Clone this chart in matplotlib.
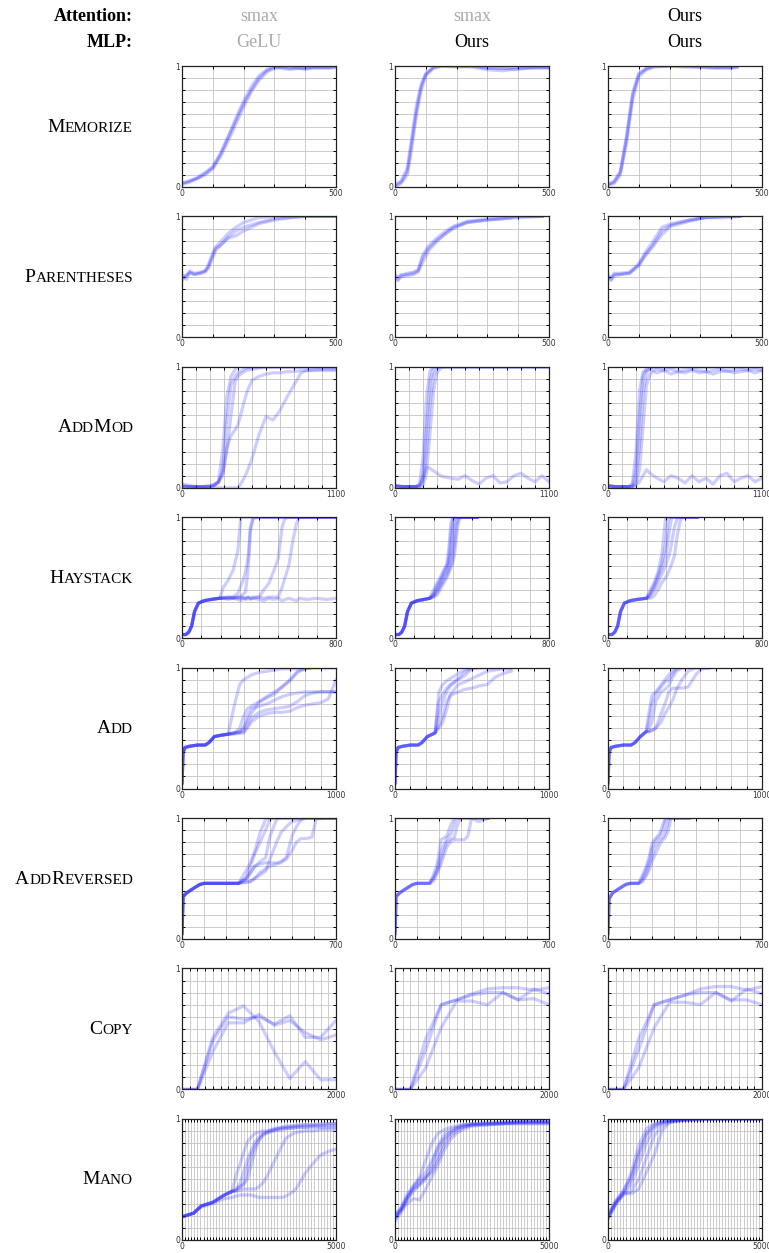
import numpy as np
import matplotlib
matplotlib.use("Agg")
import matplotlib.pyplot as plt

W, H = 769, 1253

attention_labels = ["smax", "smax", "Ours"]
mlp_labels = ["GeLU", "Ours", "Ours"]
tasks = ["Memorize", "Parentheses", "AddMod", "Haystack", "Add", "AddReversed", "Copy", "Mano"]
x_max = [500, 500, 1100, 800, 1000, 700, 2000, 5000]

# ---- Memorize
mem_x_a = [0, 25, 50, 75, 100, 125, 150, 175, 200, 225, 250, 275, 300, 325, 350, 375, 400, 425, 450, 475, 500]
mem_a = [
    [0.03, 0.05, 0.07, 0.11, 0.16, 0.27, 0.41, 0.55, 0.69, 0.80, 0.90, 0.96, 0.99, 0.99, 0.98, 0.99, 0.97, 0.99, 0.99, 0.98, 0.99],
    [0.02, 0.04, 0.07, 0.10, 0.15, 0.25, 0.38, 0.52, 0.66, 0.79, 0.88, 0.95, 0.98, 0.99, 0.99, 0.98, 0.98, 0.99, 0.98, 0.99, 0.99],
    [0.03, 0.05, 0.08, 0.12, 0.17, 0.28, 0.42, 0.57, 0.71, 0.83, 0.92, 0.97, 1.00, 0.98, 0.97, 0.98, 0.99, 0.98, 0.99, 0.99, 1.00]]
mem_x_b = [0, 20, 40, 55, 70, 85, 100, 125, 150, 200, 250, 300, 350, 400, 450, 500]
mem_b = [
    [0.02, 0.05, 0.16, 0.42, 0.68, 0.85, 0.94, 0.99, 1.00, 1.00, 1.00, 0.99, 0.98, 0.99, 0.98, 0.99],
    [0.00, 0.03, 0.10, 0.33, 0.60, 0.80, 0.92, 0.98, 1.00, 1.00, 0.99, 0.97, 0.96, 0.98, 0.99, 0.98],
    [0.01, 0.04, 0.13, 0.38, 0.64, 0.83, 0.93, 0.99, 1.00, 0.99, 1.00, 0.98, 0.98, 0.97, 0.99, 0.99]]
mem_x_c = [0, 20, 40, 60, 80, 100, 125, 150, 200, 250, 300, 350, 400, 420]
mem_c = [
    [0.02, 0.04, 0.12, 0.40, 0.76, 0.93, 0.98, 1.00, 1.00, 1.00, 0.99, 0.98, 0.99, 0.99],
    [0.01, 0.03, 0.10, 0.36, 0.72, 0.91, 0.97, 0.99, 1.00, 0.99, 0.99, 0.99, 0.98, 0.99],
    [0.02, 0.05, 0.13, 0.42, 0.78, 0.94, 0.98, 1.00, 1.00, 1.00, 1.00, 0.99, 0.99, 1.00]]

# ---- Parentheses
par_x_a = [0, 15, 25, 40, 60, 75, 85, 100, 110, 125, 150, 175, 200, 225, 250, 300, 350, 400, 450, 500]
par_a = [
    [0.49, 0.52, 0.54, 0.52, 0.53, 0.54, 0.58, 0.68, 0.74, 0.76, 0.83, 0.88, 0.91, 0.93, 0.95, 0.98, 0.99, 1.0, 1.0, 1.0],
    [0.52, 0.48, 0.55, 0.53, 0.54, 0.55, 0.60, 0.70, 0.75, 0.79, 0.86, 0.91, 0.95, 0.97, 0.99, 1.0, 1.0, 1.0, 1.0, 1.0],
    [0.47, 0.51, 0.53, 0.52, 0.53, 0.55, 0.57, 0.66, 0.72, 0.76, 0.82, 0.84, 0.88, 0.91, 0.94, 0.97, 0.99, 1.0, 1.0, 1.0]]
par_x_b = [0, 10, 20, 40, 60, 75, 90, 110, 135, 160, 190, 235, 300, 350, 400, 480]
par_b = [
    [0.50, 0.48, 0.52, 0.52, 0.53, 0.55, 0.66, 0.74, 0.80, 0.85, 0.90, 0.95, 0.97, 0.98, 1.0, 1.0],
    [0.52, 0.50, 0.51, 0.53, 0.54, 0.56, 0.68, 0.76, 0.82, 0.87, 0.92, 0.96, 0.98, 0.99, 1.0, 1.0],
    [0.48, 0.47, 0.50, 0.51, 0.52, 0.54, 0.62, 0.72, 0.79, 0.85, 0.91, 0.95, 0.97, 0.98, 0.99, 1.0]]
par_x_c = [0, 10, 20, 40, 70, 100, 120, 145, 175, 205, 265, 315, 380, 430]
par_c = [
    [0.52, 0.48, 0.53, 0.53, 0.54, 0.61, 0.70, 0.79, 0.91, 0.94, 0.97, 0.99, 1.0, 1.0],
    [0.50, 0.47, 0.51, 0.52, 0.53, 0.60, 0.68, 0.76, 0.88, 0.93, 0.97, 0.99, 1.0, 1.0],
    [0.49, 0.50, 0.52, 0.52, 0.53, 0.59, 0.67, 0.75, 0.85, 0.92, 0.96, 0.99, 0.99, 1.0]]

# ---- AddMod
amod_x_a = [0, 50, 100, 150, 200, 230, 260, 290, 320, 350, 380, 400, 430, 460, 500, 550, 600, 650, 700, 750, 800, 850, 900, 1000, 1100]
amod_a = [
    [0.02, 0.01, 0.01, 0.01, 0.01, 0.02, 0.05, 0.30, 0.75, 0.92, 0.98, 1.0, 1.0, 1.0, 1.0, 1.0, 1.0, 1.0, 1.0, 1.0, 1.0, 1.0, 1.0, 1.0, 1.0],
    [0.01, 0.01, 0.01, 0.01, 0.02, 0.03, 0.05, 0.10, 0.30, 0.60, 0.88, 0.92, 0.95, 0.97, 0.98, 0.99, 1.0, 1.0, 1.0, 1.0, 1.0, 1.0, 1.0, 1.0, 1.0],
    [0.03, 0.02, 0.01, 0.01, 0.01, 0.02, 0.05, 0.12, 0.33, 0.43, 0.48, 0.52, 0.65, 0.78, 0.89, 0.92, 0.94, 0.95, 0.95, 0.96, 0.96, 0.97, 0.97, 0.97, 0.97],
    [0.01, 0.01, 0.01, 0.01, 0.01, 0.02, 0.04, 0.15, 0.55, 0.85, 0.92, 0.95, 0.97, 0.99, 1.0, 1.0, 1.0, 1.0, 1.0, 1.0, 1.0, 1.0, 1.0, 1.0, 1.0],
    [0.01, 0.0, 0.0, 0.0, 0.0, 0.0, 0.0, 0.0, 0.0, 0.0, 0.0, 0.0, 0.05, 0.12, 0.24, 0.44, 0.59, 0.56, 0.64, 0.75, 0.85, 0.95, 0.97, 0.98, 0.98]]
amod_x_b = [0, 50, 100, 150, 175, 200, 225, 250, 275, 300, 325, 350, 400, 450, 500, 550, 600, 650, 700, 750, 800, 850, 900, 950, 1000, 1050, 1100]
amod_b = [
    [0.02, 0.01, 0.01, 0.01, 0.03, 0.25, 0.75, 0.97, 1.0, 1.0, 1.0, 1.0, 1.0, 1.0, 1.0, 1.0, 1.0, 1.0, 1.0, 1.0, 1.0, 1.0, 1.0, 1.0, 1.0, 1.0, 1.0],
    [0.01, 0.01, 0.01, 0.01, 0.02, 0.10, 0.50, 0.88, 0.99, 1.0, 1.0, 1.0, 1.0, 1.0, 1.0, 1.0, 1.0, 1.0, 1.0, 1.0, 1.0, 1.0, 1.0, 1.0, 1.0, 1.0, 1.0],
    [0.02, 0.01, 0.01, 0.01, 0.01, 0.05, 0.30, 0.70, 0.93, 0.99, 1.0, 1.0, 1.0, 1.0, 1.0, 1.0, 1.0, 1.0, 1.0, 1.0, 1.0, 1.0, 1.0, 1.0, 1.0, 1.0, 1.0],
    [0.01, 0.01, 0.01, 0.01, 0.01, 0.02, 0.12, 0.45, 0.80, 0.95, 0.99, 1.0, 1.0, 1.0, 1.0, 1.0, 1.0, 1.0, 1.0, 1.0, 1.0, 1.0, 1.0, 1.0, 1.0, 1.0, 1.0],
    [0.02, 0.01, 0.01, 0.01, 0.02, 0.08, 0.17, 0.16, 0.14, 0.12, 0.10, 0.09, 0.08, 0.07, 0.10, 0.06, 0.03, 0.08, 0.10, 0.04, 0.05, 0.10, 0.12, 0.08, 0.05, 0.10, 0.05]]
amod_x_c = [0, 50, 100, 150, 175, 200, 225, 250, 275, 300, 325, 350, 400, 450, 500, 550, 600, 650, 700, 750, 800, 850, 900, 950, 1000, 1050, 1100]
amod_c = [
    [0.02, 0.01, 0.01, 0.01, 0.04, 0.30, 0.80, 0.96, 0.97, 0.98, 0.97, 0.98, 0.97, 0.98, 0.96, 0.97, 0.98, 0.97, 0.96, 0.97, 0.98, 0.96, 0.97, 0.98, 0.97, 0.98, 0.97],
    [0.01, 0.01, 0.01, 0.01, 0.02, 0.15, 0.60, 0.92, 0.99, 1.0, 1.0, 1.0, 1.0, 1.0, 1.0, 1.0, 1.0, 1.0, 1.0, 1.0, 1.0, 1.0, 1.0, 1.0, 1.0, 1.0, 1.0],
    [0.02, 0.01, 0.01, 0.01, 0.01, 0.06, 0.35, 0.78, 0.95, 0.99, 1.0, 1.0, 1.0, 1.0, 1.0, 1.0, 1.0, 1.0, 1.0, 1.0, 1.0, 1.0, 1.0, 1.0, 1.0, 1.0, 1.0],
    [0.01, 0.01, 0.01, 0.01, 0.01, 0.03, 0.15, 0.50, 0.85, 0.94, 0.96, 0.95, 0.97, 0.94, 0.96, 0.95, 0.97, 0.95, 0.96, 0.94, 0.96, 0.97, 0.95, 0.96, 0.97, 0.95, 0.97],
    [0.02, 0.01, 0.01, 0.01, 0.01, 0.02, 0.05, 0.10, 0.15, 0.12, 0.10, 0.08, 0.05, 0.10, 0.08, 0.04, 0.10, 0.05, 0.08, 0.03, 0.10, 0.12, 0.05, 0.08, 0.10, 0.05, 0.08]]

# ---- Haystack
hay_x_a = [0, 20, 35, 50, 65, 85, 115, 150, 195, 215, 240, 265, 290, 305, 315, 330, 345, 355, 370, 400, 425, 450, 475, 500, 520, 535, 555, 575, 595, 610, 650, 700, 750, 800]
hay_a = [
    [0.03, 0.03, 0.05, 0.10, 0.22, 0.29, 0.31, 0.32, 0.33, 0.42, 0.48, 0.56, 0.72, 0.99, 1.0, 1.0, 1.0, 1.0, 1.0, 1.0, 1.0, 1.0, 1.0, 1.0, 1.0, 1.0, 1.0, 1.0, 1.0, 1.0, 1.0, 1.0, 1.0, 1.0],
    [0.03, 0.03, 0.05, 0.10, 0.22, 0.29, 0.31, 0.32, 0.33, 0.33, 0.34, 0.34, 0.37, 0.43, 0.47, 0.55, 0.69, 0.92, 1.0, 1.0, 1.0, 1.0, 1.0, 1.0, 1.0, 1.0, 1.0, 1.0, 1.0, 1.0, 1.0, 1.0, 1.0, 1.0],
    [0.03, 0.03, 0.05, 0.10, 0.22, 0.29, 0.31, 0.32, 0.33, 0.33, 0.33, 0.33, 0.34, 0.35, 0.36, 0.38, 0.60, 0.88, 0.99, 1.0, 1.0, 1.0, 1.0, 1.0, 1.0, 1.0, 1.0, 1.0, 1.0, 1.0, 1.0, 1.0, 1.0, 1.0],
    [0.03, 0.03, 0.05, 0.10, 0.22, 0.29, 0.31, 0.32, 0.33, 0.33, 0.34, 0.33, 0.34, 0.33, 0.34, 0.33, 0.34, 0.33, 0.34, 0.34, 0.40, 0.45, 0.55, 0.66, 0.92, 0.99, 1.0, 1.0, 1.0, 1.0, 1.0, 1.0, 1.0, 1.0],
    [0.03, 0.03, 0.05, 0.10, 0.22, 0.29, 0.31, 0.32, 0.33, 0.34, 0.33, 0.34, 0.33, 0.34, 0.33, 0.33, 0.34, 0.33, 0.33, 0.34, 0.33, 0.34, 0.34, 0.34, 0.42, 0.50, 0.60, 0.80, 0.95, 1.0, 1.0, 1.0, 1.0, 1.0],
    [0.03, 0.03, 0.05, 0.10, 0.22, 0.29, 0.31, 0.32, 0.33, 0.33, 0.32, 0.33, 0.32, 0.31, 0.33, 0.32, 0.33, 0.32, 0.33, 0.32, 0.31, 0.33, 0.32, 0.33, 0.31, 0.32, 0.33, 0.32, 0.31, 0.33, 0.32, 0.33, 0.32, 0.33]]
hay_x_b = [0, 20, 35, 50, 65, 85, 115, 150, 180, 200, 220, 240, 255, 270, 280, 290, 300, 310, 320, 330, 340, 360, 400, 430]
hay_b = [
    [0.03, 0.03, 0.05, 0.10, 0.22, 0.29, 0.31, 0.32, 0.33, 0.40, 0.46, 0.52, 0.57, 0.62, 0.75, 0.95, 1.0, 1.0, 1.0, 1.0, 1.0, 1.0, 1.0, 1.0],
    [0.03, 0.03, 0.05, 0.10, 0.22, 0.29, 0.31, 0.32, 0.33, 0.37, 0.44, 0.50, 0.55, 0.60, 0.68, 0.85, 0.98, 1.0, 1.0, 1.0, 1.0, 1.0, 1.0, 1.0],
    [0.03, 0.03, 0.05, 0.10, 0.22, 0.29, 0.31, 0.32, 0.33, 0.36, 0.42, 0.48, 0.53, 0.58, 0.63, 0.72, 0.90, 0.99, 1.0, 1.0, 1.0, 1.0, 1.0, 1.0],
    [0.03, 0.03, 0.05, 0.10, 0.22, 0.29, 0.31, 0.32, 0.33, 0.35, 0.40, 0.46, 0.51, 0.55, 0.60, 0.66, 0.75, 0.92, 0.99, 1.0, 1.0, 1.0, 1.0, 1.0],
    [0.03, 0.03, 0.05, 0.10, 0.22, 0.29, 0.31, 0.32, 0.33, 0.34, 0.38, 0.44, 0.48, 0.52, 0.56, 0.60, 0.66, 0.78, 0.93, 0.99, 1.0, 1.0, 1.0, 1.0],
    [0.03, 0.03, 0.05, 0.10, 0.22, 0.29, 0.31, 0.32, 0.33, 0.34, 0.36, 0.42, 0.46, 0.50, 0.54, 0.58, 0.62, 0.70, 0.85, 0.96, 1.0, 1.0, 1.0, 1.0]]
hay_x_c = [0, 20, 35, 50, 65, 85, 115, 150, 200, 220, 240, 260, 280, 300, 310, 320, 330, 345, 360, 375, 390, 420, 466]
hay_c = [
    [0.03, 0.03, 0.05, 0.10, 0.22, 0.29, 0.31, 0.32, 0.33, 0.40, 0.46, 0.55, 0.70, 1.0, 1.0, 1.0, 1.0, 1.0, 1.0, 1.0, 1.0, 1.0, 1.0],
    [0.03, 0.03, 0.05, 0.10, 0.22, 0.29, 0.31, 0.32, 0.33, 0.38, 0.44, 0.52, 0.62, 0.78, 0.95, 1.0, 1.0, 1.0, 1.0, 1.0, 1.0, 1.0, 1.0],
    [0.03, 0.03, 0.05, 0.10, 0.22, 0.29, 0.31, 0.32, 0.33, 0.36, 0.42, 0.50, 0.58, 0.68, 0.78, 0.90, 0.99, 1.0, 1.0, 1.0, 1.0, 1.0, 1.0],
    [0.03, 0.03, 0.05, 0.10, 0.22, 0.29, 0.31, 0.32, 0.33, 0.35, 0.40, 0.46, 0.53, 0.60, 0.65, 0.70, 0.78, 0.92, 0.99, 1.0, 1.0, 1.0, 1.0],
    [0.03, 0.03, 0.05, 0.10, 0.22, 0.29, 0.31, 0.32, 0.33, 0.33, 0.35, 0.40, 0.46, 0.50, 0.53, 0.57, 0.61, 0.68, 0.85, 0.97, 1.0, 1.0, 1.0]]

# ---- Add
add_x_a = [0, 7, 20, 50, 100, 150, 175, 210, 250, 300, 340, 375, 400, 425, 450, 500, 550, 600, 650, 700, 750, 800, 850, 900, 950, 1000]
add_a = [
    [0.04, 0.30, 0.34, 0.35, 0.36, 0.36, 0.38, 0.43, 0.44, 0.45, 0.69, 0.86, 0.90, 0.92, 0.94, 0.96, 0.97, 0.98, 0.99, 0.99, 0.99, 0.99, 1.0, 1.0, 1.0, 1.0],
    [0.04, 0.30, 0.34, 0.35, 0.36, 0.36, 0.38, 0.43, 0.44, 0.45, 0.46, 0.50, 0.60, 0.66, 0.68, 0.72, 0.76, 0.80, 0.84, 0.89, 0.96, 0.99, 1.0, 1.0, 1.0, 1.0],
    [0.04, 0.30, 0.34, 0.35, 0.36, 0.36, 0.38, 0.43, 0.44, 0.45, 0.46, 0.47, 0.50, 0.56, 0.62, 0.71, 0.75, 0.78, 0.84, 0.90, 0.97, 1.0, 1.0, 1.0, 1.0, 1.0],
    [0.04, 0.30, 0.34, 0.35, 0.36, 0.36, 0.38, 0.43, 0.44, 0.45, 0.46, 0.46, 0.47, 0.52, 0.58, 0.63, 0.65, 0.66, 0.67, 0.68, 0.72, 0.77, 0.79, 0.80, 0.80, 0.80],
    [0.04, 0.30, 0.34, 0.35, 0.36, 0.36, 0.38, 0.43, 0.44, 0.45, 0.45, 0.46, 0.46, 0.50, 0.55, 0.60, 0.62, 0.63, 0.63, 0.64, 0.67, 0.69, 0.70, 0.71, 0.74, 0.90],
    [0.04, 0.30, 0.34, 0.35, 0.36, 0.36, 0.38, 0.43, 0.44, 0.45, 0.46, 0.47, 0.50, 0.60, 0.66, 0.68, 0.70, 0.73, 0.76, 0.78, 0.79, 0.80, 0.80, 0.80, 0.80, 0.80]]
add_x_b = [0, 7, 20, 50, 100, 150, 175, 210, 260, 285, 310, 335, 360, 410, 450, 500, 550, 600, 650, 700, 757]
add_b = [
    [0.04, 0.30, 0.34, 0.35, 0.36, 0.36, 0.38, 0.43, 0.46, 0.80, 0.86, 0.89, 0.91, 0.95, 0.98, 1.0, 1.0, 1.0, 1.0, 1.0, 1.0],
    [0.04, 0.30, 0.34, 0.35, 0.36, 0.36, 0.38, 0.43, 0.46, 0.72, 0.78, 0.83, 0.86, 0.91, 0.96, 1.0, 1.0, 1.0, 1.0, 1.0, 1.0],
    [0.04, 0.30, 0.34, 0.35, 0.36, 0.36, 0.38, 0.43, 0.46, 0.60, 0.72, 0.80, 0.85, 0.90, 0.93, 0.99, 1.0, 1.0, 1.0, 1.0, 1.0],
    [0.04, 0.30, 0.34, 0.35, 0.36, 0.36, 0.38, 0.43, 0.46, 0.52, 0.60, 0.72, 0.77, 0.80, 0.82, 0.83, 0.85, 0.86, 0.92, 0.95, 0.97],
    [0.04, 0.30, 0.34, 0.35, 0.36, 0.36, 0.38, 0.43, 0.46, 0.50, 0.55, 0.65, 0.78, 0.86, 0.88, 0.91, 0.94, 0.97, 0.98, 0.99, 0.99]]
add_x_c = [0, 7, 20, 50, 100, 150, 175, 210, 247, 265, 285, 310, 345, 370, 395, 420, 445, 480, 520, 570, 605, 667]
add_c = [
    [0.04, 0.30, 0.34, 0.35, 0.36, 0.36, 0.38, 0.43, 0.47, 0.62, 0.77, 0.80, 0.86, 0.90, 0.94, 0.97, 1.0, 1.0, 1.0, 1.0, 1.0, 1.0],
    [0.04, 0.30, 0.34, 0.35, 0.36, 0.36, 0.38, 0.43, 0.47, 0.55, 0.70, 0.78, 0.84, 0.88, 0.90, 0.95, 0.99, 1.0, 1.0, 1.0, 1.0, 1.0],
    [0.04, 0.30, 0.34, 0.35, 0.36, 0.36, 0.38, 0.43, 0.47, 0.48, 0.55, 0.72, 0.80, 0.82, 0.85, 0.92, 0.97, 1.0, 1.0, 1.0, 1.0, 1.0],
    [0.04, 0.30, 0.34, 0.35, 0.36, 0.36, 0.38, 0.43, 0.47, 0.47, 0.48, 0.50, 0.62, 0.70, 0.80, 0.83, 0.83, 0.83, 0.84, 0.94, 0.99, 1.0],
    [0.04, 0.30, 0.34, 0.35, 0.36, 0.36, 0.38, 0.43, 0.47, 0.47, 0.48, 0.50, 0.55, 0.62, 0.67, 0.73, 0.82, 0.90, 0.97, 1.0, 1.0, 1.0]]

# ---- AddReversed
arev_x_a = [0, 5, 20, 45, 80, 100, 150, 200, 257, 290, 310, 330, 355, 380, 400, 430, 450, 475, 500, 520, 540, 560, 590, 610, 650, 700]
arev_a = [
    [0.04, 0.35, 0.38, 0.41, 0.45, 0.46, 0.46, 0.46, 0.46, 0.56, 0.63, 0.72, 0.88, 0.99, 1.0, 1.0, 1.0, 1.0, 1.0, 1.0, 1.0, 1.0, 1.0, 1.0, 1.0, 1.0],
    [0.04, 0.35, 0.38, 0.41, 0.45, 0.46, 0.46, 0.46, 0.46, 0.50, 0.60, 0.70, 0.80, 0.90, 0.99, 1.0, 1.0, 1.0, 1.0, 1.0, 1.0, 1.0, 1.0, 1.0, 1.0, 1.0],
    [0.04, 0.35, 0.38, 0.41, 0.45, 0.46, 0.46, 0.46, 0.46, 0.49, 0.54, 0.60, 0.64, 0.67, 0.85, 0.99, 1.0, 1.0, 1.0, 1.0, 1.0, 1.0, 1.0, 1.0, 1.0, 1.0],
    [0.04, 0.35, 0.38, 0.41, 0.45, 0.46, 0.46, 0.46, 0.46, 0.47, 0.48, 0.50, 0.53, 0.56, 0.66, 0.80, 0.88, 0.93, 0.97, 0.98, 0.99, 1.0, 1.0, 1.0, 1.0, 1.0],
    [0.04, 0.35, 0.38, 0.41, 0.45, 0.46, 0.46, 0.46, 0.46, 0.50, 0.55, 0.60, 0.62, 0.63, 0.63, 0.63, 0.64, 0.66, 0.73, 0.80, 0.83, 0.83, 0.84, 0.99, 1.0, 1.0],
    [0.04, 0.35, 0.38, 0.41, 0.45, 0.46, 0.46, 0.46, 0.46, 0.47, 0.47, 0.50, 0.55, 0.58, 0.60, 0.62, 0.63, 0.68, 0.85, 0.93, 0.98, 1.0, 1.0, 1.0, 1.0, 1.0]]
arev_x_b = [0, 5, 20, 45, 80, 100, 157, 175, 192, 209, 235, 255, 270, 280, 296, 315, 331, 348, 380, 427]
arev_b = [
    [0.04, 0.35, 0.38, 0.41, 0.45, 0.46, 0.46, 0.53, 0.62, 0.82, 0.85, 0.95, 1.0, 1.0, 1.0, 1.0, 1.0, 1.0, 0.97, 1.0],
    [0.04, 0.35, 0.38, 0.41, 0.45, 0.46, 0.46, 0.51, 0.58, 0.72, 0.83, 0.87, 0.95, 1.0, 1.0, 1.0, 1.0, 1.0, 1.0, 1.0],
    [0.04, 0.35, 0.38, 0.41, 0.45, 0.46, 0.46, 0.50, 0.56, 0.66, 0.80, 0.83, 0.84, 0.92, 1.0, 1.0, 1.0, 1.0, 1.0, 1.0],
    [0.04, 0.35, 0.38, 0.41, 0.45, 0.46, 0.46, 0.48, 0.54, 0.62, 0.76, 0.81, 0.82, 0.82, 0.82, 0.82, 0.85, 1.0, 1.0, 1.0]]
arev_x_c = [0, 5, 20, 45, 80, 100, 139, 155, 174, 190, 200, 215, 235, 250, 261, 275, 287, 320, 373]
arev_c = [
    [0.04, 0.33, 0.38, 0.41, 0.45, 0.46, 0.46, 0.52, 0.60, 0.70, 0.79, 0.83, 0.87, 0.95, 1.0, 1.0, 1.0, 1.0, 1.0],
    [0.04, 0.33, 0.38, 0.41, 0.45, 0.46, 0.46, 0.50, 0.58, 0.66, 0.75, 0.81, 0.85, 0.90, 0.98, 1.0, 1.0, 1.0, 1.0],
    [0.04, 0.33, 0.38, 0.41, 0.45, 0.46, 0.46, 0.48, 0.54, 0.62, 0.68, 0.76, 0.82, 0.84, 0.88, 0.98, 1.0, 1.0, 1.0],
    [0.04, 0.33, 0.38, 0.41, 0.45, 0.46, 0.46, 0.47, 0.52, 0.58, 0.64, 0.70, 0.78, 0.82, 0.84, 0.90, 1.0, 1.0, 1.0]]

# ---- Copy
copy_x = [0, 100, 200, 400, 600, 800, 1000, 1200, 1400, 1600, 1800, 2000]
copy_a = [
    [0.0, 0.0, 0.0, 0.43, 0.63, 0.69, 0.56, 0.31, 0.09, 0.23, 0.08, 0.08],
    [0.0, 0.0, 0.0, 0.40, 0.60, 0.58, 0.60, 0.54, 0.61, 0.43, 0.43, 0.57],
    [0.0, 0.0, 0.0, 0.31, 0.55, 0.55, 0.62, 0.53, 0.57, 0.47, 0.41, 0.45]]
copy_b = [
    [0.0, 0.0, 0.0, 0.42, 0.70, 0.74, 0.79, 0.83, 0.84, 0.84, 0.82, 0.84],
    [0.0, 0.0, 0.0, 0.33, 0.70, 0.74, 0.78, 0.80, 0.80, 0.74, 0.83, 0.79],
    [0.0, 0.0, 0.0, 0.18, 0.51, 0.73, 0.73, 0.70, 0.80, 0.74, 0.75, 0.70]]
copy_c = [
    [0.0, 0.0, 0.0, 0.42, 0.70, 0.74, 0.78, 0.83, 0.85, 0.85, 0.82, 0.85],
    [0.0, 0.0, 0.0, 0.33, 0.70, 0.74, 0.78, 0.80, 0.80, 0.73, 0.83, 0.79],
    [0.0, 0.0, 0.0, 0.18, 0.51, 0.72, 0.72, 0.70, 0.80, 0.74, 0.74, 0.70]]

# ---- Mano
mano_x_a = [0, 375, 625, 1000, 1375, 1625, 1750, 1875, 2000, 2125, 2250, 2375, 2500, 2625, 2750, 3000, 3250, 3375, 3625, 3750, 4000, 4250, 4500, 4750, 5000]
mano_a = [
    [0.19, 0.22, 0.28, 0.31, 0.37, 0.40, 0.53, 0.62, 0.72, 0.81, 0.85, 0.88, 0.89, 0.90, 0.90, 0.92, 0.93, 0.94, 0.94, 0.95, 0.95, 0.95, 0.96, 0.96, 0.96],
    [0.19, 0.22, 0.28, 0.31, 0.37, 0.40, 0.42, 0.46, 0.56, 0.66, 0.74, 0.81, 0.85, 0.88, 0.89, 0.91, 0.93, 0.93, 0.94, 0.94, 0.95, 0.95, 0.95, 0.96, 0.96],
    [0.19, 0.22, 0.28, 0.31, 0.37, 0.40, 0.41, 0.43, 0.46, 0.58, 0.70, 0.78, 0.83, 0.86, 0.88, 0.90, 0.91, 0.92, 0.92, 0.93, 0.93, 0.94, 0.94, 0.94, 0.94],
    [0.19, 0.22, 0.28, 0.31, 0.37, 0.40, 0.41, 0.44, 0.46, 0.50, 0.62, 0.74, 0.82, 0.87, 0.89, 0.91, 0.92, 0.92, 0.93, 0.93, 0.93, 0.93, 0.93, 0.93, 0.93],
    [0.19, 0.22, 0.28, 0.31, 0.37, 0.40, 0.40, 0.41, 0.42, 0.42, 0.42, 0.42, 0.44, 0.47, 0.52, 0.65, 0.78, 0.84, 0.88, 0.89, 0.90, 0.90, 0.91, 0.91, 0.91],
    [0.19, 0.22, 0.27, 0.30, 0.34, 0.35, 0.36, 0.37, 0.37, 0.37, 0.37, 0.36, 0.35, 0.35, 0.35, 0.35, 0.35, 0.36, 0.40, 0.44, 0.55, 0.63, 0.70, 0.73, 0.75]]
mano_x_b = [0, 200, 400, 600, 800, 1000, 1200, 1400, 1600, 1800, 2000, 2200, 2500, 3000, 3500, 4000, 4500, 5000]
mano_b = [
    [0.20, 0.26, 0.34, 0.44, 0.52, 0.66, 0.80, 0.88, 0.91, 0.93, 0.94, 0.95, 0.96, 0.97, 0.97, 0.98, 0.98, 0.98],
    [0.15, 0.23, 0.33, 0.40, 0.46, 0.52, 0.62, 0.78, 0.87, 0.91, 0.93, 0.95, 0.96, 0.96, 0.97, 0.97, 0.98, 0.98],
    [0.18, 0.25, 0.35, 0.42, 0.45, 0.50, 0.58, 0.70, 0.82, 0.88, 0.92, 0.94, 0.95, 0.96, 0.96, 0.97, 0.97, 0.97],
    [0.17, 0.24, 0.30, 0.34, 0.33, 0.42, 0.52, 0.62, 0.74, 0.83, 0.88, 0.91, 0.94, 0.95, 0.96, 0.96, 0.96, 0.96],
    [0.20, 0.27, 0.38, 0.45, 0.50, 0.56, 0.66, 0.76, 0.84, 0.89, 0.92, 0.93, 0.95, 0.96, 0.96, 0.97, 0.97, 0.97],
    [0.19, 0.25, 0.36, 0.43, 0.48, 0.52, 0.56, 0.66, 0.78, 0.86, 0.90, 0.93, 0.95, 0.95, 0.96, 0.96, 0.96, 0.96]]
mano_x_c = [0, 250, 500, 750, 1000, 1250, 1500, 1750, 2000, 2250, 2500, 3000, 3500, 4000, 4500, 5000]
mano_c = [
    [0.20, 0.32, 0.40, 0.55, 0.78, 0.92, 0.96, 0.98, 0.99, 1.0, 1.0, 1.0, 1.0, 1.0, 1.0, 1.0],
    [0.18, 0.30, 0.38, 0.50, 0.70, 0.87, 0.94, 0.97, 0.99, 0.99, 1.0, 1.0, 1.0, 1.0, 1.0, 1.0],
    [0.19, 0.31, 0.38, 0.45, 0.62, 0.80, 0.92, 0.96, 0.98, 0.99, 0.99, 1.0, 1.0, 1.0, 1.0, 1.0],
    [0.17, 0.29, 0.37, 0.40, 0.50, 0.68, 0.86, 0.94, 0.97, 0.98, 0.99, 1.0, 1.0, 1.0, 1.0, 1.0],
    [0.18, 0.30, 0.39, 0.38, 0.42, 0.56, 0.70, 0.90, 0.97, 0.98, 0.99, 0.99, 1.0, 1.0, 1.0, 1.0],
    [0.21, 0.32, 0.41, 0.52, 0.72, 0.88, 0.95, 0.97, 0.98, 0.99, 0.99, 1.0, 1.0, 1.0, 1.0, 1.0]]

panels = [
    [(mem_x_a, mem_a), (mem_x_b, mem_b), (mem_x_c, mem_c)],
    [(par_x_a, par_a), (par_x_b, par_b), (par_x_c, par_c)],
    [(amod_x_a, amod_a), (amod_x_b, amod_b), (amod_x_c, amod_c)],
    [(hay_x_a, hay_a), (hay_x_b, hay_b), (hay_x_c, hay_c)],
    [(add_x_a, add_a), (add_x_b, add_b), (add_x_c, add_c)],
    [(arev_x_a, arev_a), (arev_x_b, arev_b), (arev_x_c, arev_c)],
    [(copy_x, copy_a), (copy_x, copy_b), (copy_x, copy_c)],
    [(mano_x_a, mano_a), (mano_x_b, mano_b), (mano_x_c, mano_c)],
]

serif = "Liberation Serif"
line_color = (0.12, 0.12, 1.0)

fig = plt.figure(figsize=(W / 100, H / 100), dpi=100)
renderer = fig.canvas.get_renderer()

col_left = [182, 395, 608]
ax_w, ax_h = 154, 121
row_top0, row_step = 66, 150.4


def px_text(x, y, s, **kw):
    return fig.text(x / W, 1 - y / H, s, **kw)


def small_caps(word, x_right, y_base, big=14, small=11):
    # fake small caps: capitals large, the rest as smaller capitals
    runs = []
    for ch in word:
        up = ch.isupper()
        if runs and runs[-1][1] == up:
            runs[-1][0] += ch
        else:
            runs.append([ch, up])
    parts = []
    total = 0
    for s, up in runs:
        t = px_text(0, y_base, s.upper(), fontsize=big if up else small,
                    family=serif, va="baseline", ha="left")
        w = t.get_window_extent(renderer).width
        parts.append((t, w))
        total += w
    x = x_right - total
    for t, w in parts:
        t.set_x(x / W)
        x += w


# header
px_text(133, 21, "Attention:", fontsize=13, family=serif, weight="bold", ha="right", va="baseline")
px_text(133, 47, "MLP:", fontsize=13, family=serif, weight="bold", ha="right", va="baseline")
for j in range(3):
    cx = col_left[j] + ax_w / 2
    c1 = "#aaaaaa" if attention_labels[j] == "smax" else "black"
    c2 = "#aaaaaa" if mlp_labels[j] == "GeLU" else "black"
    px_text(cx, 21, attention_labels[j], fontsize=13, family=serif, color=c1, ha="center", va="baseline")
    px_text(cx, 47, mlp_labels[j], fontsize=13, family=serif, color=c2, ha="center", va="baseline")

for i, task in enumerate(tasks):
    top = row_top0 + i * row_step
    small_caps(task, 133, top + ax_h / 2 + 5)
    xm = x_max[i]
    for j in range(3):
        ax = fig.add_axes([col_left[j] / W, 1 - (top + ax_h) / H, ax_w / W, ax_h / H])
        xs, curves = panels[i][j]
        for ys in curves:
            n = min(len(xs), len(ys))
            ax.plot(xs[:n], ys[:n], color=line_color, alpha=0.22, lw=2.3,
                    solid_joinstyle="round", solid_capstyle="round")
        ax.set_xlim(0, xm)
        ax.set_ylim(0, 1)
        xt = np.arange(0, xm + 1, 100)
        ax.set_xticks(xt)
        ax.set_xticklabels(["0" if v == 0 else (str(xm) if v == xm else "") for v in xt])
        yt = np.linspace(0, 1, 11)
        ax.set_yticks(yt)
        ax.set_yticklabels(["0"] + [""] * 9 + ["1"])
        ax.grid(True, color="#c4c4c4", lw=0.6)
        ax.set_axisbelow(True)
        ax.tick_params(direction="in", length=2.5, width=0.7, top=True, right=True,
                       labelsize=5.5, labelcolor="#333333", pad=1.5)
        for sp in ax.spines.values():
            sp.set_linewidth(0.9)
            sp.set_color("#222222")

fig.savefig("out.png", dpi=100)
